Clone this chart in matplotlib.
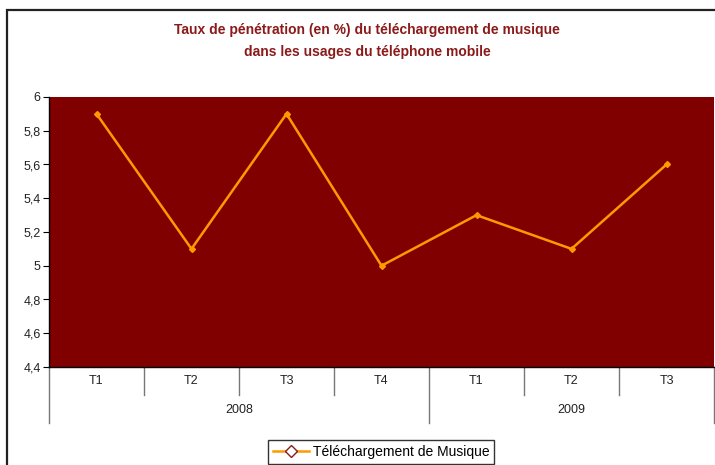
import matplotlib
matplotlib.use("Agg")
import matplotlib.pyplot as plt
import matplotlib.transforms as mtransforms
from matplotlib.patches import Rectangle

quarters = ["T1", "T2", "T3", "T4", "T1", "T2", "T3"]
years = ["2008", "2009"]
year_spans = [(0, 4), (4, 7)]
values = [5.9, 5.1, 5.9, 5.0, 5.3, 5.1, 5.6]
yticks = [4.4, 4.6, 4.8, 5.0, 5.2, 5.4, 5.6, 5.8, 6.0]
series_name = "Téléchargement de Musique"
title = "Taux de pénétration (en %) du téléchargement de musique\ndans les usages du téléphone mobile"

plt.rcParams['font.family'] = ['Liberation Sans', 'DejaVu Sans']

W, H = 715, 465
fig = plt.figure(figsize=(W / 100, H / 100), dpi=100)
fig.patch.set_facecolor("white")

# outer border
fig.patches.append(Rectangle((7 / W, -0.05), 1.1, 1 - 10 / H + 0.05, transform=fig.transFigure,
                             fill=False, edgecolor="#222222", linewidth=1.6))

ax = fig.add_axes([49 / W, (H - 367) / H, (714 - 49) / W, (367 - 97) / H])
ax.set_facecolor("#800000")
x = list(range(len(values)))
line, = ax.plot(x, values, color="#FF9900", linewidth=1.8, marker="D", markersize=3,
                markerfacecolor="#FF9900", markeredgecolor="#FF9900", label=series_name)
ax.set_xlim(-0.5, len(values) - 0.5)
ax.set_ylim(4.4, 6.0)
ax.set_yticks(yticks)
ax.set_yticklabels([("%g" % v).replace(".", ",") for v in yticks], fontsize=9, color="#222222")
ax.tick_params(axis="y", direction="out", length=4, width=0.8, pad=2)
ax.set_xticks([])
for s in ["top", "right"]:
    ax.spines[s].set_visible(False)
ax.spines["left"].set_color("black")
ax.spines["bottom"].set_color("black")
ax.spines["left"].set_linewidth(1)
ax.spines["bottom"].set_linewidth(1)

tr = mtransforms.blended_transform_factory(ax.transData, ax.transAxes)
hq = 28 / 270
hy = 56 / 270
year_bounds = set()
for a, b in year_spans:
    year_bounds.add(a)
    year_bounds.add(b)
for i in range(len(values) + 1):
    bx = i - 0.5
    depth = hy if i in year_bounds else hq
    ax.plot([bx, bx], [0, -depth], transform=tr, color="#777777", linewidth=1, clip_on=False)
for i, q in enumerate(quarters):
    ax.text(i, -hq / 2, q, transform=tr, ha="center", va="center", fontsize=9, color="#222222")
for (a, b), yr in zip(year_spans, years):
    ax.text((a + b - 1) / 2, -(hq + hy) / 2 - 0.003, yr, transform=tr, ha="center", va="center",
            fontsize=9, color="#222222")

fig.text(367 / W, 1 - 41 / H, title, ha="center", va="center", fontsize=10, fontweight="bold",
         color="#8B1A1A", linespacing=1.75)

leg_handle = plt.Line2D([], [], color="#FF9900", linewidth=1.8, marker="D", markersize=6,
                        markerfacecolor="white", markeredgecolor="#8B1A1A", markeredgewidth=1)
leg = fig.legend([leg_handle], [series_name], loc="center", bbox_to_anchor=(381 / W, 1 - 452 / H),
                 frameon=True, fancybox=False, edgecolor="black", fontsize=10, handlelength=2.6,
                 borderpad=0.35, handletextpad=0.3)
leg.get_frame().set_linewidth(1)

fig.savefig("out.png", dpi=100)
